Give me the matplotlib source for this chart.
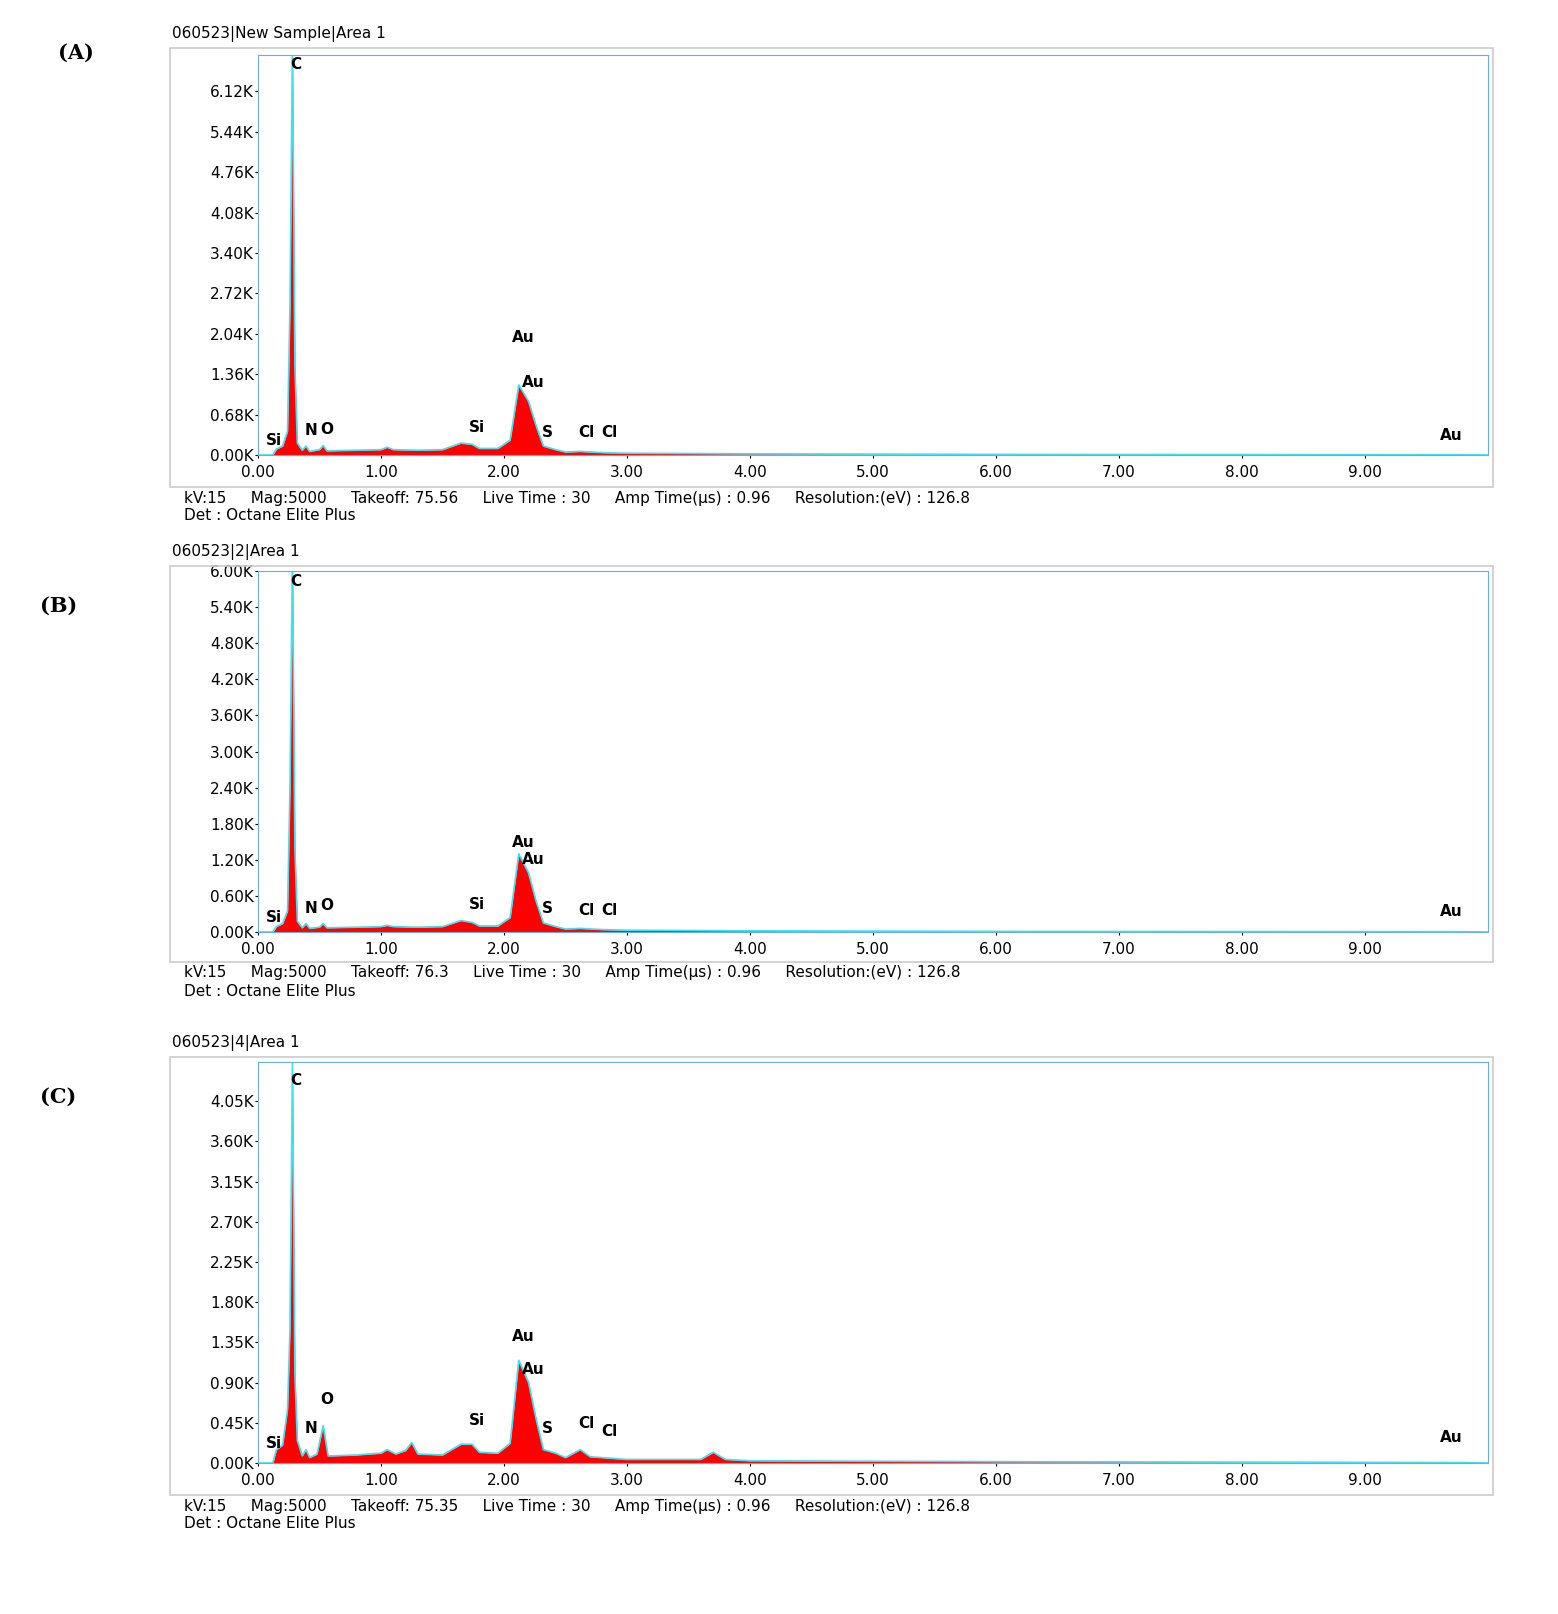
import matplotlib.pyplot as plt
from matplotlib.patches import Rectangle

W, H = 1558, 1614

energy_a = [0, 0.12, 0.15, 0.2, 0.24, 0.26, 0.28, 0.30, 0.32, 0.36, 0.39, 0.42, 0.5, 0.53, 0.56, 0.8, 1.0, 1.05, 1.1,
            1.3, 1.5, 1.65, 1.74, 1.8, 1.95, 2.05, 2.12, 2.2, 2.26, 2.32, 2.42, 2.5, 2.62, 2.8, 3.0, 4.0, 6.0, 9.8, 10.0]
counts_a = [0, 0, 100, 150, 400, 2500, 6900, 1500, 200, 80, 150, 60, 90, 160, 70, 80, 90, 130, 90,
            80, 90, 200, 180, 110, 110, 250, 1180, 900, 500, 150, 90, 50, 60, 40, 30, 20, 10, 5, 0]
energy_b = energy_a
counts_b = [0, 0, 90, 140, 350, 2400, 6300, 1400, 180, 70, 140, 60, 80, 140, 70, 80, 90, 110, 90,
            80, 90, 190, 160, 100, 100, 240, 1300, 980, 520, 150, 90, 50, 60, 40, 30, 20, 10, 5, 0]
energy_c = [0, 0.12, 0.15, 0.2, 0.24, 0.26, 0.28, 0.30, 0.32, 0.36, 0.39, 0.42, 0.48, 0.53, 0.57, 0.6, 0.8, 1.0, 1.05,
            1.12, 1.2, 1.25, 1.3, 1.5, 1.65, 1.74, 1.8, 1.95, 2.05, 2.12, 2.2, 2.26, 2.32, 2.42, 2.5, 2.62, 2.7,
            2.8, 3.0, 3.6, 3.7, 3.8, 4.0, 6.0, 9.8, 10.0]
counts_c = [0, 0, 150, 200, 600, 1500, 4490, 1000, 250, 80, 150, 60, 100, 420, 80, 80, 90, 110, 150,
            100, 140, 230, 100, 90, 210, 210, 120, 110, 220, 1150, 900, 500, 150, 110, 60, 150, 70,
            60, 40, 40, 120, 40, 25, 15, 5, 0]

titles = ["060523|New Sample|Area 1", "060523|2|Area 1", "060523|4|Area 1"]
panel_ids = ["(A)", "(B)", "(C)"]
takeoffs = ["75.56", "76.3", "75.35"]
y_ticks = [[0, 680, 1360, 2040, 2720, 3400, 4080, 4760, 5440, 6120],
           [0, 600, 1200, 1800, 2400, 3000, 3600, 4200, 4800, 5400, 6000],
           [0, 450, 900, 1350, 1800, 2250, 2700, 3150, 3600, 4050]]
y_max = [6730, 6000, 4490]
x_ticks = [0, 1, 2, 3, 4, 5, 6, 7, 8, 9]

# element labels: (name, keV, counts)
labels_a = [("Si", 0.13, 110), ("C", 0.31, 6450), ("N", 0.43, 280), ("O", 0.56, 300), ("Si", 1.78, 330),
            ("Au", 2.16, 1850), ("Au", 2.24, 1100), ("S", 2.35, 250), ("Cl", 2.67, 250), ("Cl", 2.86, 250),
            ("Au", 9.7, 210)]
labels_b = [("Si", 0.13, 110), ("C", 0.31, 5700), ("N", 0.43, 270), ("O", 0.56, 320), ("Si", 1.78, 330),
            ("Au", 2.16, 1360), ("Au", 2.24, 1080), ("S", 2.35, 260), ("Cl", 2.67, 240), ("Cl", 2.86, 230),
            ("Au", 9.7, 220)]
labels_c = [("Si", 0.13, 130), ("C", 0.31, 4200), ("N", 0.43, 300), ("O", 0.56, 630), ("Si", 1.78, 390),
            ("Au", 2.16, 1330), ("Au", 2.24, 960), ("S", 2.35, 300), ("Cl", 2.67, 360), ("Cl", 2.86, 270),
            ("Au", 9.7, 200)]

spectra = [(energy_a, counts_a, labels_a), (energy_b, counts_b, labels_b), (energy_c, counts_c, labels_c)]
# pixel layout: (outer top, outer bottom, plot top, plot bottom)
boxes = [(48, 487, 55, 455), (566, 962, 571, 932), (1057, 1495, 1062, 1463)]

fig = plt.figure(figsize=(W / 100, H / 100), dpi=100)
for i, (ex, cy, labs) in enumerate(spectra):
    ot, ob, pt, pb = boxes[i]
    fig.patches.append(Rectangle((170 / W, 1 - ob / H), 1323 / W, (ob - ot) / H, transform=fig.transFigure,
                                 fill=False, edgecolor="#cccccc", lw=1.2))
    ax = fig.add_axes([258 / W, 1 - pb / H, 1230 / W, (pb - pt) / H])
    ax.fill_between(ex, cy, color="red", lw=0)
    ax.plot(ex, cy, color="#40e0f0", lw=1.2)
    ax.set_xlim(0, 10)
    ax.set_ylim(0, y_max[i])
    ax.set_xticks(x_ticks)
    ax.set_xticklabels([f"{v:.2f}" for v in x_ticks], fontsize=11)
    ax.set_yticks(y_ticks[i])
    ax.set_yticklabels([f"{v / 1000:.2f}K" for v in y_ticks[i]], fontsize=11)
    ax.tick_params(axis="y", length=2, pad=1)
    ax.tick_params(axis="x", length=2, pad=5)
    for s in ax.spines.values():
        s.set_color("#6aaedc")
    for name, x, y in labs:
        ax.text(x, y, name, fontsize=11, fontweight="bold", ha="center", va="bottom")
    fig.text(172 / W, 1 - (ot - 14) / H, titles[i], fontsize=11, va="center")
    fig.text(40 / W if i else 58 / W, 1 - (ot + 5) / H if i == 0 else 1 - (ot + 40) / H, panel_ids[i],
             fontsize=15, fontweight="bold", family="DejaVu Serif", va="center")
    info = ("kV:15     Mag:5000     Takeoff: " + takeoffs[i] + "     Live Time : 30     Amp Time(µs) : 0.96"
            "     Resolution:(eV) : 126.8")
    fig.text(184 / W, 1 - (ob + 11) / H, info, fontsize=11, va="center")
    fig.text(184 / W, 1 - (ob + 29) / H, "Det : Octane Elite Plus", fontsize=11, va="center")

fig.savefig("out.png", dpi=100)
